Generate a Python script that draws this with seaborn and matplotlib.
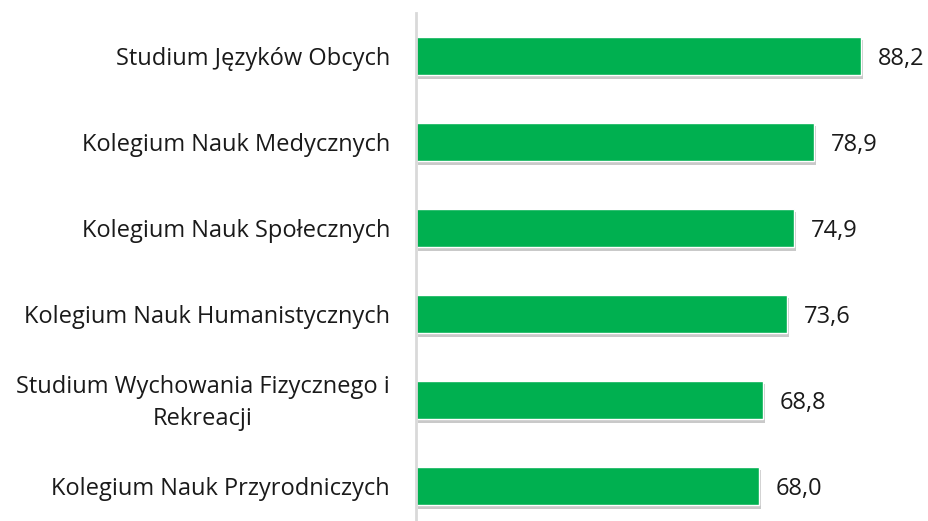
import pandas as pd
import numpy as np
import matplotlib.pyplot as plt
import matplotlib.patheffects as pe
import matplotlib.transforms as mtransforms
import seaborn as sns

categories = ['Studium Języków Obcych',
              'Kolegium Nauk Medycznych',
              'Kolegium Nauk Społecznych',
              'Kolegium Nauk Humanistycznych',
              'Studium Wychowania Fizycznego i\nRekreacji',
              'Kolegium Nauk Przyrodniczych']
values = [88.2, 78.9, 74.9, 73.6, 68.8, 68.0]

sns.set_style('white')
plt.rcParams['font.family'] = ['Open Sans', 'DejaVu Sans']

df = pd.DataFrame({'cat': categories, 'val': values})

fig = plt.figure(figsize=(9.29, 5.21), dpi=100)
ax = fig.add_axes([416 / 929, 1 - 529 / 521, 1 - 416 / 929, 516 / 521])
sns.barplot(data=df, x='val', y='cat', orient='h', color='#00B050',
            saturation=1, width=0.45, ax=ax)
for p in ax.patches:
    p.set_path_effects([pe.SimplePatchShadow(offset=(1.5, -2.5), shadow_rgbFace='#888888', alpha=0.45),
                        pe.Normal()])

ax.set_xlim(0, 101.7)
ax.set_xlabel('')
ax.set_ylabel('')
ax.set_xticks([])
ax.set_yticks(range(len(categories)))
ax.set_yticklabels([])
ax.tick_params(axis='y', length=0)

# category labels drawn as text so the two-line one can be centred
trans = mtransforms.blended_transform_factory(ax.transAxes, ax.transData)
off = mtransforms.offset_copy(trans, fig=fig, x=-26, y=-3, units='dots')
for i, c in enumerate(categories):
    ax.text(0, i, c, transform=off, ha='right', va='center', multialignment='center',
            fontsize=17, color='#1a1a1a', linespacing=1.4)

for s in ['top', 'right', 'bottom']:
    ax.spines[s].set_visible(False)
ax.spines['left'].set_color('#D9D9D9')
ax.spines['left'].set_linewidth(2)

# value labels
labels = [f'{v:.1f}'.replace('.', ',') for v in values]
voff = mtransforms.offset_copy(ax.transData, fig=fig, x=17, y=-3, units='dots')
for i, (v, lab) in enumerate(zip(values, labels)):
    ax.text(v, i, lab, transform=voff, ha='left', va='center', fontsize=17, color='#1a1a1a')

fig.savefig('out.png', dpi=100)
